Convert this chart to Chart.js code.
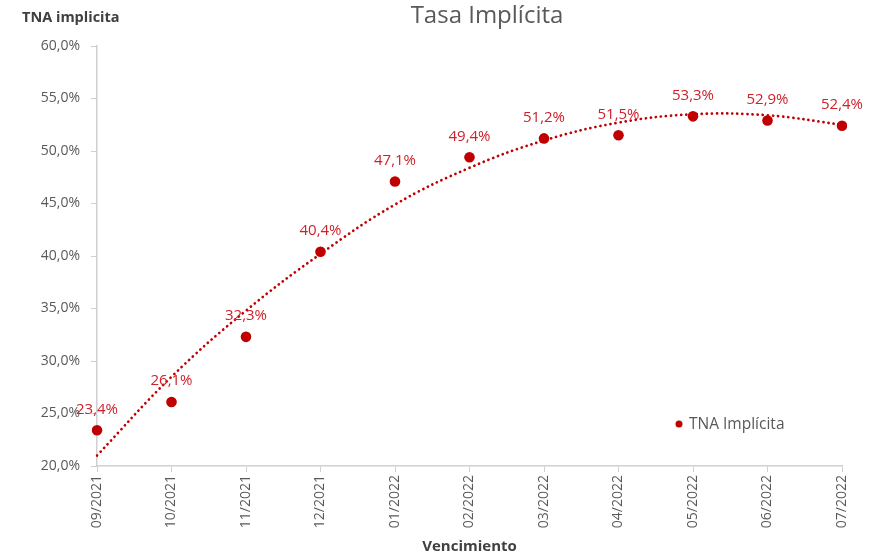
<!DOCTYPE html>
<html lang="es">
<head>
    <meta charset="UTF-8">
    <title>Tasa Implícita</title>
    <script src="https://cdn.jsdelivr.net/npm/chart.js"></script>
    <style>
        html, body { margin: 0; padding: 0; background: #fff; }
        #wrap { width: 881px; height: 556px; }
    </style>
</head>
<body>
    <div id="wrap"><canvas id="tasaChart" width="881" height="556"></canvas></div>

    <script>
        // Vencimientos (eje x)
        const vencimientos = ['09/2021', '10/2021', '11/2021', '12/2021', '01/2022', '02/2022',
                              '03/2022', '04/2022', '05/2022', '06/2022', '07/2022'];
        // TNA implícita observada (%)
        const tnaImplicita = [23.4, 26.1, 32.3, 40.4, 47.1, 49.4, 51.2, 51.5, 53.3, 52.9, 52.4];
        // Línea de tendencia (%)
        const tendencia = [21.0, 28.5, 34.8, 40.2, 44.9, 48.4, 51.0, 52.7, 53.5, 53.4, 52.5];
        // Marcas del eje y
        const yMin = 20, yMax = 60, yStep = 5;

        const fontFamily = '"Open Sans", "Noto Sans", sans-serif';
        const rojo = '#c00000';
        const gris = '#595959';
        const ejeColor = '#d0d0d0';

        const fmt = v => v.toFixed(1).replace('.', ',') + '%';

        // Etiquetas de datos, títulos y leyenda
        const extras = {
            id: 'extras',
            afterDatasetsDraw(chart) {
                const ctx = chart.ctx;
                const meta = chart.getDatasetMeta(1);
                ctx.save();
                ctx.font = '15px ' + fontFamily;
                ctx.fillStyle = '#d0202a';
                ctx.textAlign = 'center';
                ctx.textBaseline = 'middle';
                meta.data.forEach((pt, i) => {
                    ctx.fillText(fmt(tnaImplicita[i]), pt.x, pt.y - 21);
                });

                // titulo
                ctx.font = '24px ' + fontFamily;
                ctx.fillStyle = gris;
                ctx.fillText('Tasa Implícita', 487, 16);

                // titulo eje y
                ctx.font = 'bold 14.5px ' + fontFamily;
                ctx.fillStyle = '#404040';
                ctx.textAlign = 'left';
                ctx.fillText('TNA implicita', 22, 18);

                // leyenda
                ctx.fillStyle = rojo;
                ctx.beginPath();
                ctx.arc(679, 424, 3.5, 0, Math.PI * 2);
                ctx.fill();
                ctx.font = '15.5px ' + fontFamily;
                ctx.fillStyle = gris;
                ctx.fillText('TNA Implícita', 689, 425);
                ctx.restore();
            }
        };

        new Chart(document.getElementById('tasaChart'), {
            type: 'line',
            data: {
                labels: vencimientos,
                datasets: [{
                    label: 'Tendencia',
                    data: tendencia,
                    borderColor: rojo,
                    borderWidth: 2.7,
                    borderDash: [0.1, 5],
                    borderCapStyle: 'round',
                    pointRadius: 0,
                    tension: 0.4,
                    fill: false,
                    order: 2
                }, {
                    label: 'TNA Implícita',
                    data: tnaImplicita,
                    showLine: false,
                    pointRadius: 5.3,
                    pointBackgroundColor: rojo,
                    pointBorderColor: rojo,
                    pointBorderWidth: 0,
                    order: 1
                }]
            },
            options: {
                responsive: false,
                animation: false,
                layout: { padding: { left: 0, right: 39, top: 46, bottom: 0 } },
                plugins: {
                    legend: { display: false },
                    tooltip: { enabled: false }
                },
                scales: {
                    x: {
                        offset: false,
                        grid: { display: true, drawOnChartArea: false, drawTicks: true, tickLength: 6, color: ejeColor },
                        border: { color: ejeColor, width: 1.5 },
                        ticks: {
                            color: gris,
                            font: { family: fontFamily, size: 14 },
                            minRotation: 90,
                            maxRotation: 90,
                            autoSkip: false,
                            padding: 3
                        },
                        title: {
                            display: true,
                            text: 'Vencimiento',
                            color: '#404040',
                            font: { family: fontFamily, size: 15, weight: 'bold' },
                            padding: { top: 2, bottom: 0 }
                        },
                        afterFit(scale) { scale.height = 90; }
                    },
                    y: {
                        min: yMin,
                        max: yMax,
                        grid: { display: true, drawOnChartArea: false, drawTicks: true, tickLength: 6, color: ejeColor },
                        border: { color: ejeColor, width: 1.5 },
                        ticks: {
                            stepSize: yStep,
                            color: gris,
                            font: { family: fontFamily, size: 14 },
                            padding: 11,
                            callback: v => fmt(v)
                        },
                        afterFit(scale) { scale.width = 97; }
                    }
                }
            },
            plugins: [extras]
        });
    </script>
</body>
</html>
